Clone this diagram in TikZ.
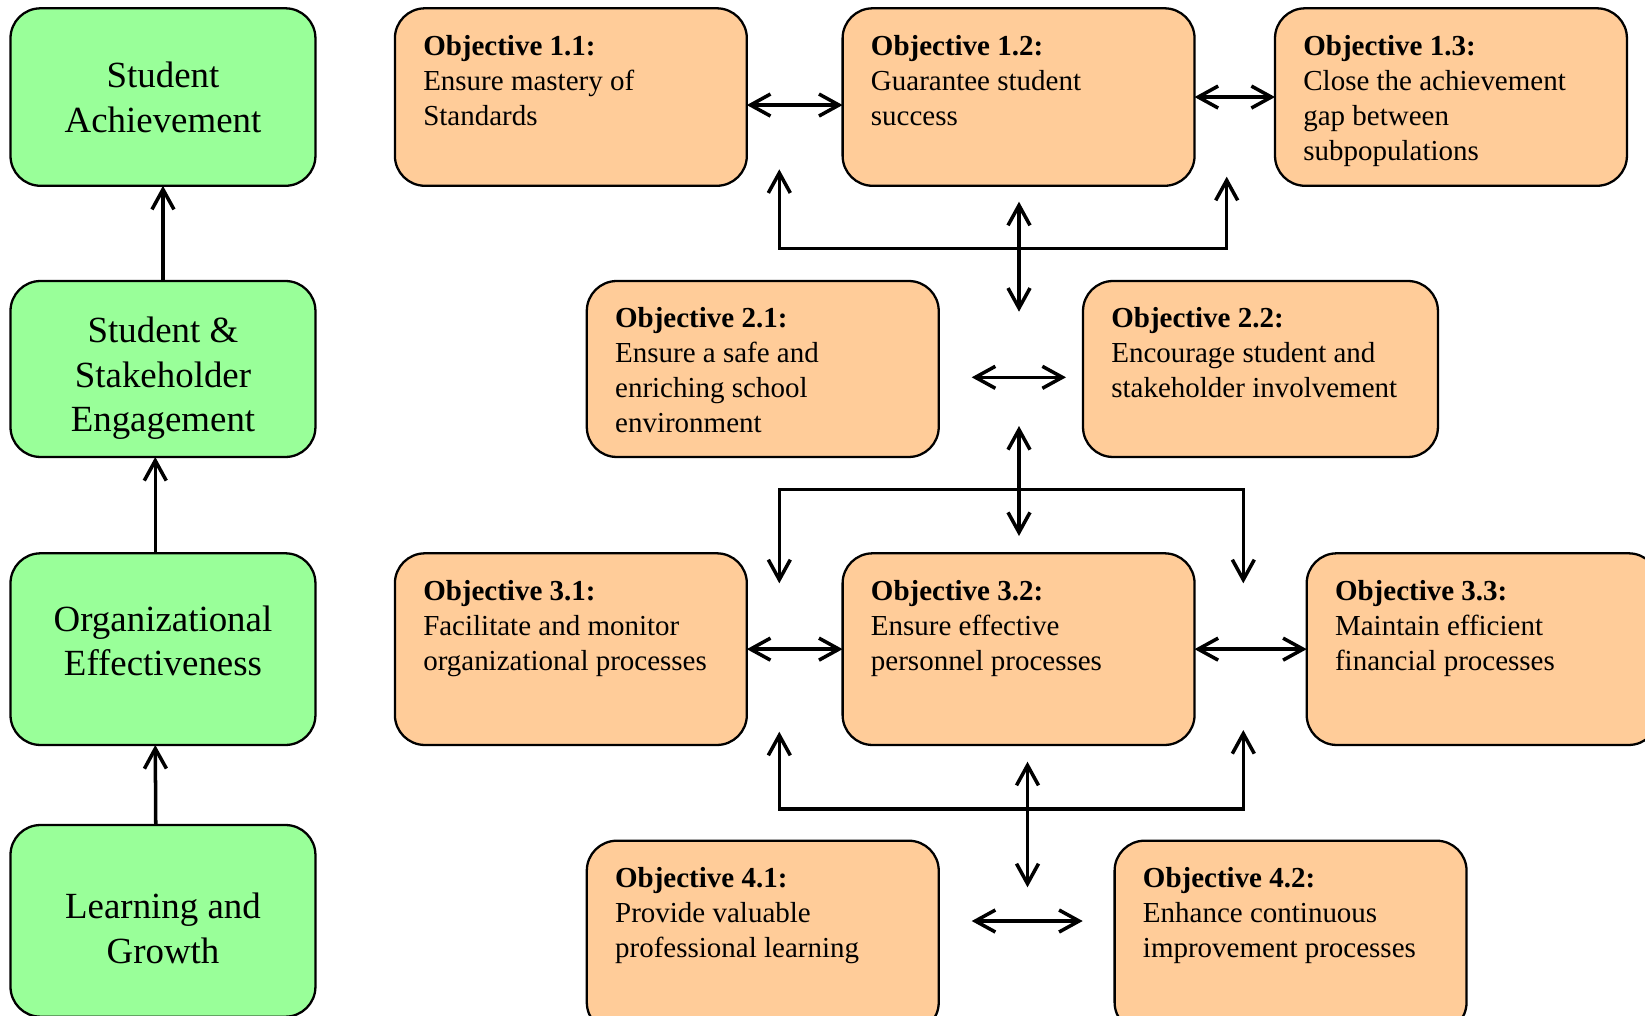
\documentclass[tikz,border=0pt]{standalone}
\usepackage{fontspec}
\setmainfont{Liberation Serif}
\usetikzlibrary{arrows.meta,calc}

\definecolor{goalgreen}{HTML}{99FF99}
\definecolor{objorange}{HTML}{FFCC99}

\tikzset{
  boxbase/.style={draw=black, line width=1.3pt, rounded corners=0.6cm,
    inner sep=0pt, outer sep=0pt, anchor=north west},
  goal/.style={boxbase, fill=goalgreen, minimum width=6.10cm},
  obj/.style={boxbase, fill=objorange, minimum width=7.04cm},
  rowA/.style={minimum height=3.55cm},
  rowB/.style={minimum height=3.52cm},
  rowC/.style={minimum height=3.834cm},
  goaltext/.style={anchor=north, inner sep=0pt, align=center,
    font=\fontsize{21}{25.2}\selectfont},
  objtext/.style={anchor=north west, inner sep=0pt, align=left,
    font=\fontsize{16.5}{19.9}\selectfont},
  barb/.tip={Straight Barb[length=4mm, width=4.4mm]},
  link/.style={line width=2pt, draw=black},
  onearrow/.style={link, -barb},
  twoarrow/.style={link, barb-barb},
}

\begin{document}
\begin{tikzpicture}[x=0.02cm, y=-0.02cm]
  \useasboundingbox (0,0) rectangle (1645,1015);
  \clip (0,0) rectangle (1645,1015);

  % perspective column
  \node[goal, rowA] (g1) at (10.5,8.3) {};
  \node[goal, rowB] (g2) at (10.5,281) {};
  \node[goal, rowC] (g3) at (10.5,553.3) {};
  \node[goal, rowC] (g4) at (10.5,825) {};

  \node[goaltext] (g1t) at (163,61.8) {Student\\Achievement};
  \node[goaltext] (g2t) at (163,316.8) {Student \&\\Stakeholder\\Engagement};
  \node[goaltext] (g3t) at (163,605.2) {Organizational\\Effectiveness};
  \node[goaltext] (g4t) at (163,892.8) {Learning and\\Growth};

  % objective boxes
  \node[obj, rowA] (o11) at (394.9,8.3) {};
  \node[obj, rowA] (o12) at (842.6,8.3) {};
  \node[obj, rowA] (o13) at (1275,8.3) {};
  \node[obj, rowB] (o21) at (586.8,281) {};
  \node[obj, rowB, minimum width=7.1cm] (o22) at (1083,281) {};
  \node[obj, rowC] (o31) at (394.9,553.3) {};
  \node[obj, rowC] (o32) at (842.6,553.3) {};
  \node[obj, rowC] (o33) at (1306.7,553.3) {};
  \node[obj, rowC] (o41) at (586.8,840.7) {};
  \node[obj, rowC] (o42) at (1114.6,840.7) {};

  \node[objtext] (o11t) at ($(o11.north west)+(28,26.5)$)
    {\textbf{Objective 1.1:}\\Ensure mastery of\\Standards};
  \node[objtext] (o12t) at ($(o12.north west)+(28,26.5)$)
    {\textbf{Objective 1.2:}\\Guarantee student\\success};
  \node[objtext] (o13t) at ($(o13.north west)+(28,26.5)$)
    {\textbf{Objective 1.3:}\\Close the achievement\\gap between\\subpopulations};
  \node[objtext] (o21t) at ($(o21.north west)+(28,26.5)$)
    {\textbf{Objective 2.1:}\\Ensure a safe and\\enriching school\\environment};
  \node[objtext] (o22t) at ($(o22.north west)+(28,26.5)$)
    {\textbf{Objective 2.2:}\\Encourage student and\\stakeholder involvement};
  \node[objtext] (o31t) at ($(o31.north west)+(28,26.5)$)
    {\textbf{Objective 3.1:}\\Facilitate and monitor\\organizational processes};
  \node[objtext] (o32t) at ($(o32.north west)+(28,26.5)$)
    {\textbf{Objective 3.2:}\\Ensure effective\\personnel processes};
  \node[objtext] (o33t) at ($(o33.north west)+(28,26.5)$)
    {\textbf{Objective 3.3:}\\Maintain efficient\\financial processes};
  \node[objtext] (o41t) at ($(o41.north west)+(28,26.5)$)
    {\textbf{Objective 4.1:}\\Provide valuable\\professional learning};
  \node[objtext] (o42t) at ($(o42.north west)+(28,26.5)$)
    {\textbf{Objective 4.2:}\\Enhance continuous\\improvement processes};

  % perspective arrows
  \draw[onearrow] (g2.north) -- (g1.south);
  \draw[onearrow] ($(g3.north)+(-7.7,0)$) -- ($(g2.south)+(-7.7,0)$);
  \draw[onearrow] ($(g4.north)+(-7.2,0)$) -- ($(g3.south)+(-7.7,0)$);

  % links within rows
  \draw[twoarrow] ($(o11.east)+(0,8)$) -- ($(o12.west)+(0,8)$);
  \draw[twoarrow] (o12.east) -- (o13.west);
  \draw[twoarrow] (o31.east) -- (o32.west);
  \draw[twoarrow] (o32.east) -- (o33.west);

  % free-standing arrow ends
  \coordinate (b1l) at (779.3,169.3);
  \coordinate (b1r) at (1226.7,176.7);
  \coordinate (b1y) at (0,248.3);
  \coordinate (m1t) at (1019,201.7);
  \coordinate (m1b) at (1019,311.7);
  \coordinate (h2l) at (971.7,377.3);
  \coordinate (h2r) at (1066,377.3);
  \coordinate (m2t) at (1019,426);
  \coordinate (m2b) at (1019,536);
  \coordinate (b2l) at (779.3,583.3);
  \coordinate (b2r) at (1243.3,583.3);
  \coordinate (b2y) at (0,489.3);
  \coordinate (b3l) at (779.3,731.7);
  \coordinate (b3r) at (1243.3,730);
  \coordinate (b3y) at (0,809);
  \coordinate (m3t) at (1027.5,761.7);
  \coordinate (m3b) at (1027.5,887.3);
  \coordinate (h4l) at (971.7,921);
  \coordinate (h4r) at (1082.7,921);

  % brackets and vertical links
  \draw[twoarrow] (b1l) -- (b1l |- b1y) -- (b1r |- b1y) -- (b1r);
  \draw[twoarrow] (m1t) -- (m1b);
  \draw[twoarrow] (h2l) -- (h2r);
  \draw[twoarrow] (m2t) -- (m2b);
  \draw[twoarrow] (b2l) -- (b2l |- b2y) -- (b2r |- b2y) -- (b2r);
  \draw[twoarrow] (b3l) -- (b3l |- b3y) -- (b3r |- b3y) -- (b3r);
  \draw[twoarrow] (m3t) -- (m3b);
  \draw[twoarrow] (h4l) -- (h4r);
\end{tikzpicture}
\end{document}
